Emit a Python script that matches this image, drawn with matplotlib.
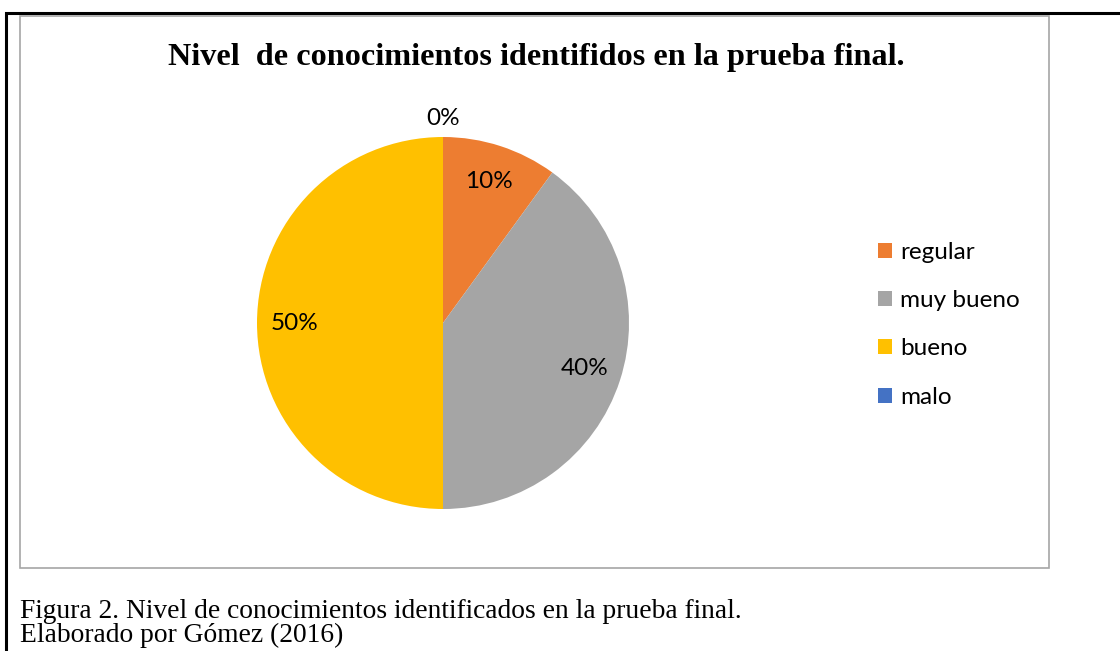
import matplotlib
matplotlib.use("Agg")
import matplotlib.pyplot as plt
import matplotlib.patches as mpatches
import numpy as np

categories = ["regular", "muy bueno", "bueno", "malo"]
values = [10, 40, 50, 0]
colors = ["#ED7D31", "#A5A5A5", "#FFC000", "#4472C4"]
title = "Nivel  de conocimientos identifidos en la prueba final."
caption1 = "Figura 2. Nivel de conocimientos identificados en la prueba final."
caption2 = "Elaborado por Gómez (2016)"

W, H = 1120, 651
fig = plt.figure(figsize=(W / 100, H / 100), dpi=100)

def fx(x):
    return x / W

def fy(y):
    return 1 - y / H

# outer black frame (extends beyond right/bottom)
fig.patches.append(mpatches.Rectangle((fx(6), fy(700)), fx(1200), fy(13) - fy(700),
                                      transform=fig.transFigure, fill=False,
                                      edgecolor="black", linewidth=2.2))
# inner gray chart frame
fig.patches.append(mpatches.Rectangle((fx(20), fy(568)), fx(1049) - fx(20), fy(16) - fy(568),
                                      transform=fig.transFigure, fill=False,
                                      edgecolor="#A6A6A6", linewidth=1.2))

cx, cy, r = 443, 323, 186
ax = fig.add_axes([fx(cx - r), fy(cy + r), 2 * r / W, 2 * r / H])
wedges, _ = ax.pie(values, colors=colors, startangle=90, counterclock=False,
                   radius=1, wedgeprops=dict(linewidth=0))
ax.set_xlim(-1, 1)
ax.set_ylim(-1, 1)
ax.set_aspect("equal")
ax.axis("off")

total = sum(values)
cum = 0
for v in values:
    start = 90 - 360 * cum / total
    mid = np.deg2rad(start - 180 * v / total)
    d = 0.8 if v > 0 else 1.1
    ax.text(d * np.cos(mid), d * np.sin(mid), f"{v / total * 100:.0f}%",
            ha="center", va="center", fontsize=17.5, family="Lato", color="#000000")
    cum += v

fig.text(fx(536), fy(58), title, ha="center", va="center", fontsize=23.2,
         family="Liberation Serif", fontweight="bold")

handles = [mpatches.Patch(facecolor=c, edgecolor="none") for c in colors]
leg = fig.legend(handles, categories, loc="upper left",
                 bbox_to_anchor=(fx(878), fy(242)), frameon=False,
                 prop=dict(family="Lato", size=17.5), handlelength=0.58,
                 handleheight=0.58, handletextpad=0.33, labelspacing=1.12,
                 borderaxespad=0, borderpad=0)

fig.text(fx(20), fy(611), caption1, ha="left", va="center", fontsize=19.8,
         family="Liberation Serif")
fig.text(fx(20), fy(635), caption2, ha="left", va="center", fontsize=19.8,
         family="Liberation Serif")

fig.savefig("out.png", dpi=100)
